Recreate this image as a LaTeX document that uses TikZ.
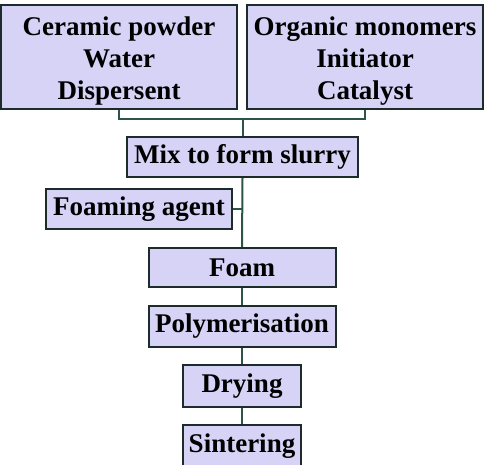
\documentclass[tikz,border=0pt]{standalone}
\usepackage{fontspec}
\setmainfont{Liberation Serif}
\usetikzlibrary{positioning}

\definecolor{boxfill}{HTML}{D6D3F6}
\definecolor{boxline}{HTML}{1E2B2B}
\definecolor{linkline}{HTML}{2C5548}

\tikzset{
  stage/.style={draw=boxline, fill=boxfill, line width=2pt, inner sep=0pt,
    align=center, font=\fontsize{27}{32}\selectfont\bfseries},
  link/.style={draw=linkline, line width=2pt}
}

\begin{document}
\begin{tikzpicture}[x=1pt, y=-1pt]
    \useasboundingbox (0,0) rectangle (484,465);

    %Raw materials
    \node[stage, minimum width=236pt, minimum height=104pt] (ceramic) at (119,57)
        {\rule{0pt}{26pt}Ceramic powder\\Water\\Dispersent};
    \node[stage, minimum width=236pt, minimum height=104pt] (organic) at (365,57)
        {\rule{0pt}{26pt}Organic monomers\\Initiator\\Catalyst};

    %Slurry
    \coordinate (join) at (242.5,119);
    \node[stage, minimum width=231pt, minimum height=40pt] (mix) at (242.5,157) {Mix to form slurry};
    \node[stage, minimum width=186pt, minimum height=40pt] (foaming) at (139,209) {Foaming agent};

    %Process chain
    \node[stage, minimum width=187pt, minimum height=39pt] (foam) at (242,267.5) {Foam};
    \node[stage, minimum width=187pt, minimum height=41pt] (poly) at (242,326.5) {Polymerisation};
    \node[stage, minimum width=118pt, minimum height=42pt] (dry) at (242,386) {Drying};
    \node[stage, minimum width=118pt, minimum height=42pt] (sinter) at (242,446) {Sintering};

    %Connectors
    \draw[link] (ceramic.south) |- (join) -| (organic.south);
    \draw[link] (join) -- (mix.north);
    \draw[link] (mix.south) -- (foam.north);
    \draw[link] (foaming.east) -- (foaming.east -| mix.south);
    \draw[link] (foam.south) -- (poly.north);
    \draw[link] (poly.south) -- (dry.north);
    \draw[link] (dry.south) -- (sinter.north);
  \end{tikzpicture}
\end{document}
